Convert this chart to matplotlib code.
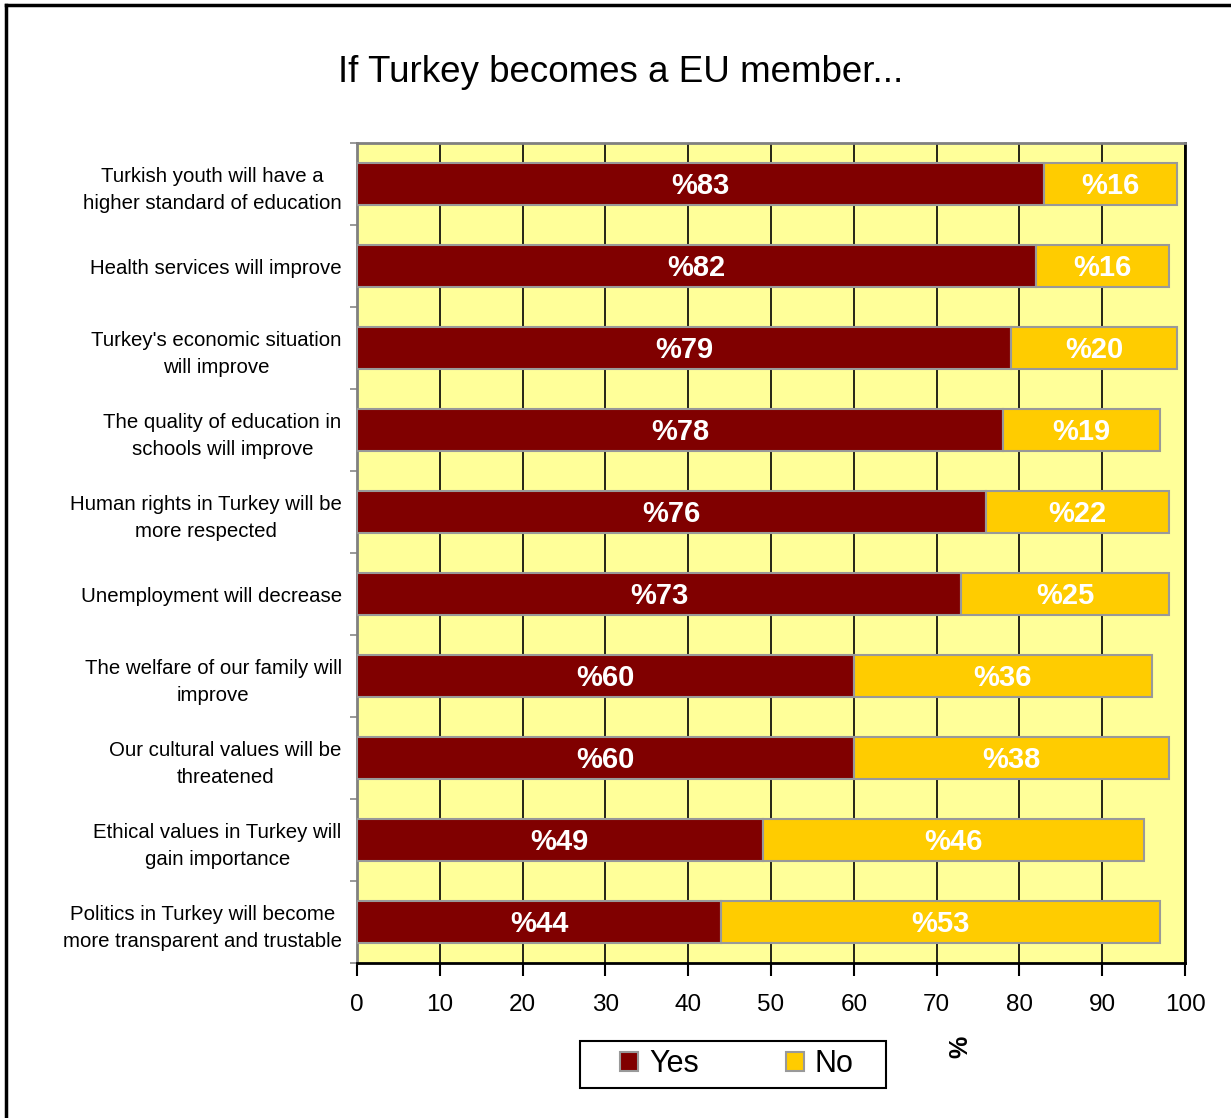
import numpy as np
import matplotlib.pyplot as plt
from matplotlib.lines import Line2D
from matplotlib.patches import Patch, Rectangle

plt.rcParams['font.family'] = ['Liberation Sans', 'DejaVu Sans']

statements = [
    "Turkish youth will have a\nhigher standard of education",
    "Health services will improve",
    "Turkey's economic situation\nwill improve",
    "The quality of education in\nschools will improve",
    "Human rights in Turkey will be\nmore respected",
    "Unemployment will decrease",
    "The welfare of our family will\nimprove",
    "Our cultural values will be\nthreatened",
    "Ethical values in Turkey will\ngain importance",
    "Politics in Turkey will become\nmore transparent and trustable",
]
yes = [83, 82, 79, 78, 76, 73, 60, 60, 49, 44]
no = [16, 16, 20, 19, 22, 25, 36, 38, 46, 53]

c_yes = '#800000'
c_no = '#FFCC00'

fig = plt.figure(figsize=(12.31, 11.18), dpi=100)
ax = fig.add_axes([0.290, 0.1386, 0.6727, 0.7335])
ax.set_facecolor('#FFFF99')

y = np.arange(len(statements))
bh = 0.52
ax.barh(y, yes, height=bh, color=c_yes, edgecolor='#999999', linewidth=1.5, zorder=3)
ax.barh(y, no, left=yes, height=bh, color=c_no, edgecolor='#999999', linewidth=1.5, zorder=3)

for i in range(len(statements)):
    ax.text(yes[i] / 2, y[i] + 0.02, '%' + str(yes[i]), ha='center', va='center',
            color='white', fontsize=21, fontweight='bold', zorder=4)
    ax.text(yes[i] + no[i] / 2, y[i] + 0.02, '%' + str(no[i]), ha='center', va='center',
            color='white', fontsize=21, fontweight='bold', zorder=4)

ax.set_xlim(0, 100)
ax.set_ylim(len(statements) - 0.5, -0.5)
ax.set_xticks(np.arange(0, 101, 10))
ax.tick_params(axis='x', labelsize=17.5, length=9, width=1.5, direction='out', pad=13)
ax.grid(axis='x', color='black', linewidth=1.2, zorder=1)

ax.set_yticks(y)
ax.set_yticklabels(statements, fontsize=14.7)
for t in ax.get_yticklabels():
    t.set_multialignment('center')
    t.set_linespacing(1.55)
ax.tick_params(axis='y', length=0, pad=11)
ax.set_yticks(np.arange(-0.5, len(statements), 1), minor=True)
ax.tick_params(axis='y', which='minor', length=5, width=1.2, color='#888888')

for s in ['top', 'left']:
    ax.spines[s].set_color('#808080')
    ax.spines[s].set_linewidth(2)
for s in ['right', 'bottom']:
    ax.spines[s].set_color('black')
    ax.spines[s].set_linewidth(2)

fig.text(0.504, 0.935, 'If Turkey becomes a EU member...', ha='center', va='center', fontsize=26.5)
fig.text(0.780, 0.064, '%', rotation=90, ha='center', va='center', fontsize=18, fontweight='bold')

# legend, with its box drawn separately
fig.add_artist(Rectangle((580 / 1231, 1 - 1088 / 1118), 306 / 1231, 47 / 1118, transform=fig.transFigure,
                         facecolor='white', edgecolor='black', linewidth=1.5, zorder=5))
handles = [Patch(facecolor=c_yes, edgecolor='#999999', linewidth=1.5, label='Yes'),
           Patch(facecolor=c_no, edgecolor='#999999', linewidth=1.5, label='No')]
leg = fig.legend(handles=handles, loc='center', bbox_to_anchor=(0.5985, 0.0483), ncol=2,
                 fontsize=22, frameon=False, handlelength=0.6, handleheight=0.6,
                 handletextpad=0.35, columnspacing=2.85, borderaxespad=0)
leg.set_zorder(6)

# outer border (top and left)
fig.add_artist(Line2D([0.0045, 1.0], [0.9955, 0.9955], color='black', linewidth=2.5, transform=fig.transFigure))
fig.add_artist(Line2D([0.0045, 0.0045], [0.0, 0.9955], color='black', linewidth=2.5, transform=fig.transFigure))

fig.savefig('out.png', dpi=100)
